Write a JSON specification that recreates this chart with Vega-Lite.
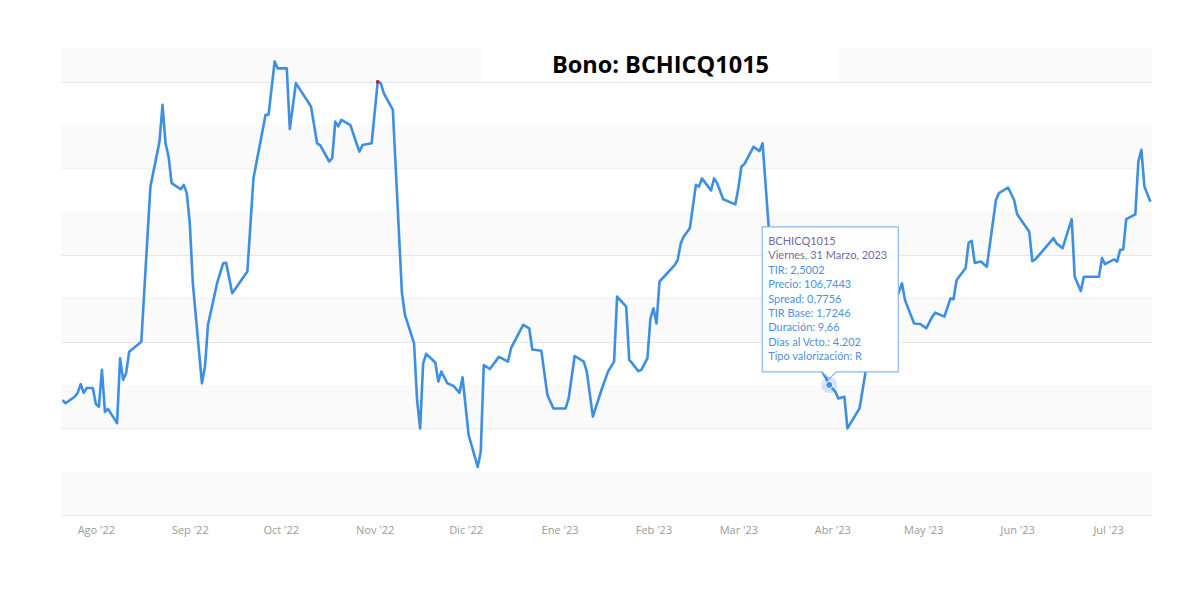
{
  "$schema": "https://vega.github.io/schema/vega-lite/v6.json",
  "width": 1091,
  "height": 467,
  "autosize": {"type": "none"},
  "padding": {"left": 61, "top": 48, "right": 43, "bottom": 74},
  "background": "white",
  "title": {
    "text": "Bono: BCHICQ1015",
    "anchor": "middle",
    "baseline": "alphabetic",
    "offset": 0,
    "dy": 48,
    "dx": 54,
    "font": "Open Sans",
    "fontSize": 23.5,
    "fontWeight": "bold",
    "color": "#000000"
  },
  "config": {"view": {"stroke": null}},
  "datasets": {
    "bandas": [
      {"lo": 2.2, "hi": 2.3},
      {"lo": 2.4, "hi": 2.5},
      {"lo": 2.6, "hi": 2.7},
      {"lo": 2.8, "hi": 2.9},
      {"lo": 3.0, "hi": 3.1}
    ],
    "bandaSuperior": [
      {"lo": 3.2, "hi": 3.278, "desde": "2022-07-20", "hasta": "2022-12-06"},
      {"lo": 3.2, "hi": 3.278, "desde": "2023-04-03", "hasta": "2023-07-16"}
    ],
    "serie": [
      {"d": "2022-07-21", "v": 2.465}, {"d": "2022-07-22", "v": 2.458}, {"d": "2022-07-25", "v": 2.473},
      {"d": "2022-07-26", "v": 2.482}, {"d": "2022-07-27", "v": 2.502}, {"d": "2022-07-28", "v": 2.482},
      {"d": "2022-07-29", "v": 2.493}, {"d": "2022-07-31", "v": 2.493}, {"d": "2022-08-01", "v": 2.456},
      {"d": "2022-08-02", "v": 2.450}, {"d": "2022-08-03", "v": 2.535}, {"d": "2022-08-04", "v": 2.438},
      {"d": "2022-08-05", "v": 2.445}, {"d": "2022-08-08", "v": 2.412}, {"d": "2022-08-09", "v": 2.562},
      {"d": "2022-08-10", "v": 2.512}, {"d": "2022-08-11", "v": 2.528}, {"d": "2022-08-12", "v": 2.577},
      {"d": "2022-08-16", "v": 2.600}, {"d": "2022-08-19", "v": 2.958}, {"d": "2022-08-22", "v": 3.062},
      {"d": "2022-08-23", "v": 3.147}, {"d": "2022-08-24", "v": 3.058}, {"d": "2022-08-25", "v": 3.027},
      {"d": "2022-08-26", "v": 2.966}, {"d": "2022-08-29", "v": 2.952}, {"d": "2022-08-30", "v": 2.962},
      {"d": "2022-08-31", "v": 2.943}, {"d": "2022-09-01", "v": 2.873}, {"d": "2022-09-02", "v": 2.735},
      {"d": "2022-09-05", "v": 2.504}, {"d": "2022-09-06", "v": 2.542}, {"d": "2022-09-07", "v": 2.639},
      {"d": "2022-09-10", "v": 2.735}, {"d": "2022-09-12", "v": 2.781}, {"d": "2022-09-13", "v": 2.782},
      {"d": "2022-09-15", "v": 2.712}, {"d": "2022-09-20", "v": 2.762}, {"d": "2022-09-22", "v": 2.977},
      {"d": "2022-09-26", "v": 3.124}, {"d": "2022-09-27", "v": 3.124}, {"d": "2022-09-29", "v": 3.247},
      {"d": "2022-09-30", "v": 3.231}, {"d": "2022-10-03", "v": 3.231}, {"d": "2022-10-04", "v": 3.091},
      {"d": "2022-10-06", "v": 3.197}, {"d": "2022-10-11", "v": 3.143}, {"d": "2022-10-13", "v": 3.058},
      {"d": "2022-10-14", "v": 3.054}, {"d": "2022-10-17", "v": 3.016}, {"d": "2022-10-18", "v": 3.024},
      {"d": "2022-10-19", "v": 3.108}, {"d": "2022-10-20", "v": 3.097}, {"d": "2022-10-21", "v": 3.112},
      {"d": "2022-10-24", "v": 3.100}, {"d": "2022-10-26", "v": 3.058}, {"d": "2022-10-27", "v": 3.039},
      {"d": "2022-10-28", "v": 3.054}, {"d": "2022-10-31", "v": 3.058}, {"d": "2022-11-02", "v": 3.200},
      {"d": "2022-11-03", "v": 3.197}, {"d": "2022-11-04", "v": 3.174}, {"d": "2022-11-07", "v": 3.135},
      {"d": "2022-11-10", "v": 2.712}, {"d": "2022-11-11", "v": 2.662}, {"d": "2022-11-14", "v": 2.596},
      {"d": "2022-11-15", "v": 2.465}, {"d": "2022-11-16", "v": 2.400}, {"d": "2022-11-17", "v": 2.550},
      {"d": "2022-11-18", "v": 2.572}, {"d": "2022-11-21", "v": 2.552}, {"d": "2022-11-22", "v": 2.508},
      {"d": "2022-11-23", "v": 2.531}, {"d": "2022-11-25", "v": 2.504}, {"d": "2022-11-27", "v": 2.498},
      {"d": "2022-11-29", "v": 2.482}, {"d": "2022-11-30", "v": 2.518}, {"d": "2022-12-02", "v": 2.385},
      {"d": "2022-12-05", "v": 2.311}, {"d": "2022-12-06", "v": 2.346}, {"d": "2022-12-07", "v": 2.546},
      {"d": "2022-12-09", "v": 2.537}, {"d": "2022-12-12", "v": 2.565}, {"d": "2022-12-15", "v": 2.554},
      {"d": "2022-12-16", "v": 2.585}, {"d": "2022-12-20", "v": 2.639}, {"d": "2022-12-22", "v": 2.631},
      {"d": "2022-12-23", "v": 2.582}, {"d": "2022-12-26", "v": 2.579}, {"d": "2022-12-28", "v": 2.477},
      {"d": "2022-12-30", "v": 2.446}, {"d": "2023-01-03", "v": 2.446}, {"d": "2023-01-04", "v": 2.469},
      {"d": "2023-01-06", "v": 2.567}, {"d": "2023-01-09", "v": 2.554}, {"d": "2023-01-10", "v": 2.531},
      {"d": "2023-01-12", "v": 2.427}, {"d": "2023-01-15", "v": 2.492}, {"d": "2023-01-17", "v": 2.531},
      {"d": "2023-01-19", "v": 2.554}, {"d": "2023-01-20", "v": 2.704}, {"d": "2023-01-23", "v": 2.681},
      {"d": "2023-01-24", "v": 2.558}, {"d": "2023-01-25", "v": 2.550}, {"d": "2023-01-27", "v": 2.532},
      {"d": "2023-01-28", "v": 2.535}, {"d": "2023-01-30", "v": 2.562}, {"d": "2023-01-31", "v": 2.654},
      {"d": "2023-02-01", "v": 2.677}, {"d": "2023-02-02", "v": 2.642}, {"d": "2023-02-03", "v": 2.739},
      {"d": "2023-02-05", "v": 2.754}, {"d": "2023-02-08", "v": 2.777}, {"d": "2023-02-09", "v": 2.789},
      {"d": "2023-02-10", "v": 2.827}, {"d": "2023-02-11", "v": 2.843}, {"d": "2023-02-13", "v": 2.862},
      {"d": "2023-02-15", "v": 2.962}, {"d": "2023-02-16", "v": 2.958}, {"d": "2023-02-17", "v": 2.977},
      {"d": "2023-02-20", "v": 2.949}, {"d": "2023-02-21", "v": 2.977}, {"d": "2023-02-22", "v": 2.966},
      {"d": "2023-02-24", "v": 2.929}, {"d": "2023-02-28", "v": 2.917}, {"d": "2023-03-01", "v": 2.954},
      {"d": "2023-03-02", "v": 3.004}, {"d": "2023-03-03", "v": 3.010}, {"d": "2023-03-06", "v": 3.050},
      {"d": "2023-03-08", "v": 3.040}, {"d": "2023-03-09", "v": 3.058}, {"d": "2023-03-11", "v": 2.866},
      {"d": "2023-03-15", "v": 2.719}, {"d": "2023-03-18", "v": 2.662}, {"d": "2023-03-21", "v": 2.615},
      {"d": "2023-03-25", "v": 2.576}, {"d": "2023-03-28", "v": 2.539}, {"d": "2023-03-30", "v": 2.515},
      {"d": "2023-03-31", "v": 2.5002}, {"d": "2023-04-02", "v": 2.485}, {"d": "2023-04-03", "v": 2.469},
      {"d": "2023-04-05", "v": 2.473}, {"d": "2023-04-06", "v": 2.400}, {"d": "2023-04-10", "v": 2.446},
      {"d": "2023-04-12", "v": 2.531}, {"d": "2023-04-14", "v": 2.592}, {"d": "2023-04-17", "v": 2.639},
      {"d": "2023-04-20", "v": 2.673}, {"d": "2023-04-22", "v": 2.696}, {"d": "2023-04-24", "v": 2.735},
      {"d": "2023-04-25", "v": 2.696}, {"d": "2023-04-28", "v": 2.642}, {"d": "2023-04-30", "v": 2.641},
      {"d": "2023-05-02", "v": 2.631}, {"d": "2023-05-04", "v": 2.658}, {"d": "2023-05-05", "v": 2.667},
      {"d": "2023-05-08", "v": 2.658}, {"d": "2023-05-10", "v": 2.700}, {"d": "2023-05-11", "v": 2.698},
      {"d": "2023-05-12", "v": 2.742}, {"d": "2023-05-15", "v": 2.770}, {"d": "2023-05-16", "v": 2.829},
      {"d": "2023-05-17", "v": 2.833}, {"d": "2023-05-18", "v": 2.782}, {"d": "2023-05-20", "v": 2.785},
      {"d": "2023-05-22", "v": 2.773}, {"d": "2023-05-25", "v": 2.927}, {"d": "2023-05-26", "v": 2.943},
      {"d": "2023-05-29", "v": 2.956}, {"d": "2023-05-31", "v": 2.927}, {"d": "2023-06-01", "v": 2.894},
      {"d": "2023-06-05", "v": 2.854}, {"d": "2023-06-06", "v": 2.786}, {"d": "2023-06-07", "v": 2.790},
      {"d": "2023-06-09", "v": 2.806}, {"d": "2023-06-13", "v": 2.839}, {"d": "2023-06-14", "v": 2.827},
      {"d": "2023-06-16", "v": 2.816}, {"d": "2023-06-19", "v": 2.883}, {"d": "2023-06-20", "v": 2.750},
      {"d": "2023-06-22", "v": 2.717}, {"d": "2023-06-23", "v": 2.750}, {"d": "2023-06-28", "v": 2.750},
      {"d": "2023-06-29", "v": 2.793}, {"d": "2023-06-30", "v": 2.779}, {"d": "2023-07-03", "v": 2.790},
      {"d": "2023-07-04", "v": 2.785}, {"d": "2023-07-05", "v": 2.812}, {"d": "2023-07-06", "v": 2.813},
      {"d": "2023-07-07", "v": 2.883}, {"d": "2023-07-10", "v": 2.894}, {"d": "2023-07-11", "v": 3.016},
      {"d": "2023-07-12", "v": 3.043}, {"d": "2023-07-13", "v": 2.958}, {"d": "2023-07-15", "v": 2.923}
    ],
    "seleccion": [{"d": "2023-03-31", "v": 2.5002}],
    "maximo": [{"d": "2022-11-02", "v": 3.2}]
  },
  "layer": [
    {
      "data": {"name": "bandas"},
      "mark": {"type": "rect", "color": "#fafafa"},
      "encoding": {
        "y": {
          "field": "lo", "type": "quantitative", "title": null,
          "scale": {"domain": [2.2, 3.278], "nice": false, "zero": false},
          "axis": {
            "values": [2.2, 2.3, 2.4, 2.5, 2.6, 2.7, 2.8, 2.9, 3.0, 3.1, 3.2],
            "labels": false, "ticks": false, "domain": false,
            "grid": true, "gridColor": "#e6e6e6", "gridWidth": 1, "title": null
          }
        },
        "y2": {"field": "hi"}
      }
    },
    {
      "data": {"name": "bandaSuperior"},
      "mark": {"type": "rect", "color": "#fafafa", "clip": true},
      "encoding": {
        "x": {"field": "desde", "type": "temporal", "title": null},
        "x2": {"field": "hasta"},
        "y": {"field": "lo", "type": "quantitative", "title": null},
        "y2": {"field": "hi"}
      }
    },
    {
      "data": {"name": "serie"},
      "mark": {"type": "line", "color": "#3d8fe3", "strokeWidth": 2.6, "strokeJoin": "round"},
      "encoding": {
        "x": {
          "field": "d", "type": "temporal", "title": null,
          "scale": {
            "type": "utc",
            "domain": [
              {"year": 2022, "month": 7, "date": 20, "hours": 12, "utc": true},
              {"year": 2023, "month": 7, "date": 15, "hours": 12, "utc": true}
            ]
          },
          "axis": {
            "values": [
              {"year": 2022, "month": 8, "date": 1, "utc": true},
              {"year": 2022, "month": 9, "date": 1, "utc": true},
              {"year": 2022, "month": 10, "date": 1, "utc": true},
              {"year": 2022, "month": 11, "date": 1, "utc": true},
              {"year": 2022, "month": 12, "date": 1, "utc": true},
              {"year": 2023, "month": 1, "date": 1, "utc": true},
              {"year": 2023, "month": 2, "date": 1, "utc": true},
              {"year": 2023, "month": 3, "date": 1, "utc": true},
              {"year": 2023, "month": 4, "date": 1, "utc": true},
              {"year": 2023, "month": 5, "date": 1, "utc": true},
              {"year": 2023, "month": 6, "date": 1, "utc": true},
              {"year": 2023, "month": 7, "date": 1, "utc": true}
            ],
            "labelExpr": "['Ene','Feb','Mar','Abr','May','Jun','Jul','Ago','Sep','Oct','Nov','Dic'][utcmonth(datum.value)] + \" '\" + utcFormat(datum.value, '%y')",
            "grid": false, "ticks": false, "domain": false, "title": null,
            "labelFont": "Open Sans", "labelFontSize": 11, "labelColor": "#9a9a9a",
            "labelPadding": 9, "labelAngle": 0, "labelOverlap": false
          }
        },
        "y": {"field": "v", "type": "quantitative", "title": null}
      }
    },
    {
      "data": {"name": "maximo"},
      "mark": {"type": "point", "filled": true, "color": "#c8143c", "size": 14, "opacity": 1},
      "encoding": {
        "x": {"field": "d", "type": "temporal", "title": null},
        "y": {"field": "v", "type": "quantitative", "title": null}
      }
    },
    {
      "data": {"name": "seleccion"},
      "mark": {
        "type": "point",
        "shape": "M-0.41875,-0.9875 L0.43125,-0.9875 L0.43125,-0.08125 L0.04375,-0.08125 L0,-0.0375 L-0.04375,-0.08125 L-0.41875,-0.08125 Z",
        "size": 102400,
        "filled": true,
        "fill": "#ffffff",
        "fillOpacity": 1,
        "stroke": "#8db8ea",
        "strokeWidth": 1.2,
        "opacity": 1
      },
      "encoding": {
        "x": {"field": "d", "type": "temporal", "title": null},
        "y": {"field": "v", "type": "quantitative", "title": null}
      }
    },
    {
      "data": {"name": "seleccion"},
      "mark": {
        "type": "text", "align": "left", "baseline": "top",
        "dx": -61, "dy": -149, "font": "Lato", "fontSize": 11, "lineHeight": 14.4,
        "color": "#6f6ca0",
        "text": ["BCHICQ1015", "Viernes, 31 Marzo, 2023"]
      },
      "encoding": {
        "x": {"field": "d", "type": "temporal", "title": null},
        "y": {"field": "v", "type": "quantitative", "title": null}
      }
    },
    {
      "data": {"name": "seleccion"},
      "mark": {
        "type": "text", "align": "left", "baseline": "top",
        "dx": -61, "dy": -120.2, "font": "Lato", "fontSize": 11, "lineHeight": 14.4,
        "color": "#4d91e0",
        "text": ["TIR: 2,5002", "Precio: 106,7443", "Spread: 0,7756", "TIR Base: 1,7246", "Duración: 9,66", "Días al Vcto.: 4.202", "Tipo valorización: R"]
      },
      "encoding": {
        "x": {"field": "d", "type": "temporal", "title": null},
        "y": {"field": "v", "type": "quantitative", "title": null}
      }
    },
    {
      "data": {"name": "seleccion"},
      "mark": {"type": "point", "filled": true, "color": "#3d8fe3", "size": 260, "opacity": 0.22},
      "encoding": {
        "x": {"field": "d", "type": "temporal", "title": null},
        "y": {"field": "v", "type": "quantitative", "title": null}
      }
    },
    {
      "data": {"name": "seleccion"},
      "mark": {"type": "point", "filled": true, "color": "#3d8fe3", "size": 50, "opacity": 1, "stroke": "#ffffff", "strokeWidth": 1},
      "encoding": {
        "x": {"field": "d", "type": "temporal", "title": null},
        "y": {"field": "v", "type": "quantitative", "title": null}
      }
    }
  ]
}
